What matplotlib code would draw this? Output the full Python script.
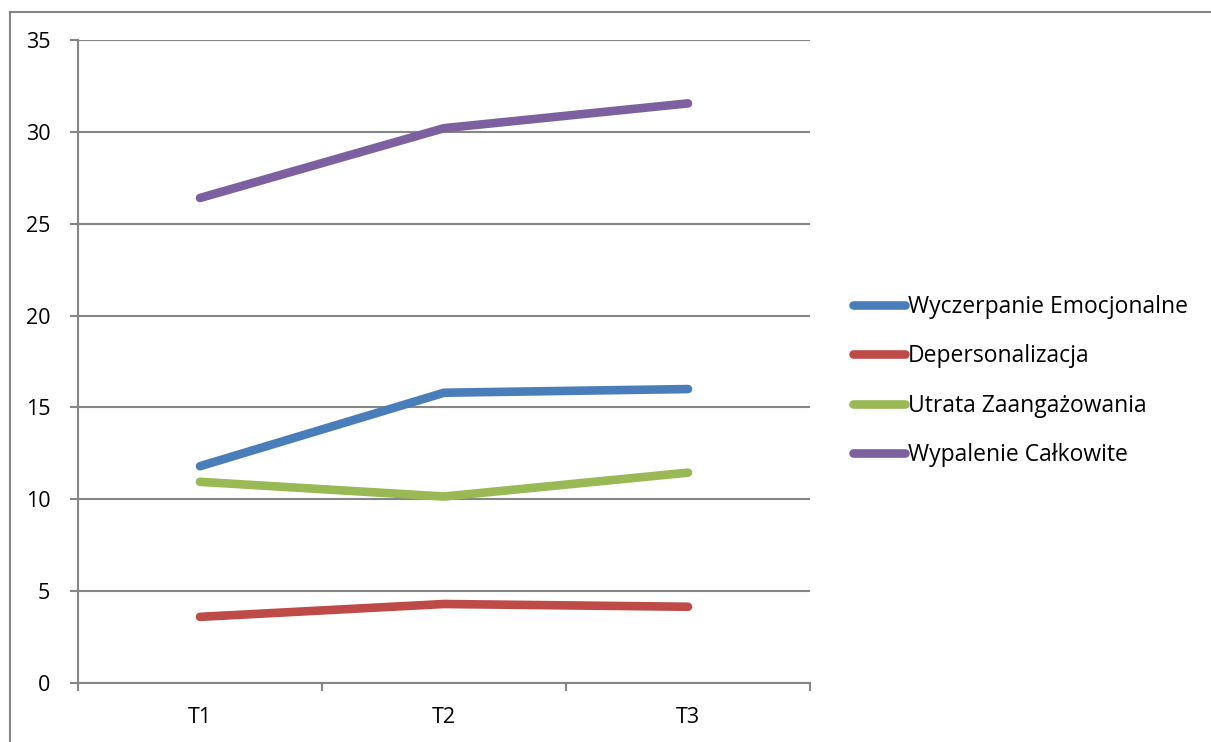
import numpy as np
import matplotlib.pyplot as plt
from matplotlib.patches import Rectangle

# measurement points and mean scores
periods = ['T1', 'T2', 'T3']
wyczerpanie = [11.8, 15.8, 16.0]
depersonalizacja = [3.6, 4.3, 4.15]
utrata = [10.95, 10.15, 11.45]
wypalenie = [26.4, 30.2, 31.55]

series = [
    ('Wyczerpanie Emocjonalne', wyczerpanie, '#4a7ebb'),
    ('Depersonalizacja', depersonalizacja, '#be4b48'),
    ('Utrata Zaangażowania', utrata, '#98b954'),
    ('Wypalenie Całkowite', wypalenie, '#7d60a0'),
]

plt.rcParams['font.family'] = ['Open Sans', 'DejaVu Sans']
grid_col = '#868686'

fig = plt.figure(figsize=(12.11, 7.42), dpi=100)
ax = fig.add_axes([78 / 1211, 1 - 683 / 742, (810 - 78) / 1211, (683 - 40) / 742])

# outer chart border (only left and top edges fall inside the image)
fig.patches.append(Rectangle((10 / 1211, -0.1), 1.2, 1 - 12 / 742 + 0.1,
                             transform=fig.transFigure, fill=False,
                             edgecolor=grid_col, linewidth=1.5))

x = np.arange(len(periods))
for name, vals, col in series:
    ax.plot(x, vals, color=col, linewidth=6.2, solid_capstyle='round',
            solid_joinstyle='round', label=name)

ax.set_xlim(-0.5, len(periods) - 0.5)
ax.set_ylim(0, 35)
ax.set_yticks(np.arange(0, 36, 5))
ax.yaxis.grid(True, color=grid_col, linewidth=1.5)
ax.set_axisbelow(True)

ax.set_xticks(x)
ax.set_xticklabels(periods)
ax.set_xticks(np.arange(-0.5, len(periods)), minor=True)
ax.tick_params(axis='x', which='major', length=0, pad=17, labelsize=15.5)
ax.tick_params(axis='x', which='minor', length=6, width=1.5, color=grid_col)
ax.tick_params(axis='y', length=6, width=1.5, color=grid_col, pad=14, labelsize=15.5)

for side in ('top', 'right'):
    ax.spines[side].set_visible(False)
for side in ('left', 'bottom'):
    ax.spines[side].set_color(grid_col)
    ax.spines[side].set_linewidth(1.5)

leg = fig.legend(loc='center left', bbox_to_anchor=(832 / 1211, 1 - 381 / 742),
                 frameon=False, fontsize=16.5, handlelength=2.3, handletextpad=0.1,
                 labelspacing=1.1)

fig.savefig('out.png', dpi=100)
